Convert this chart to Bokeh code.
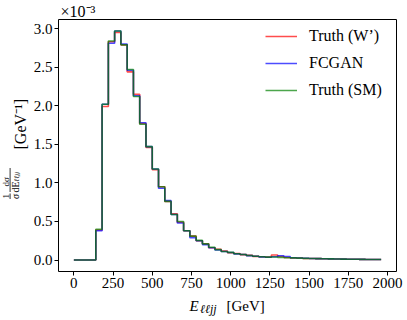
import math
from bokeh.plotting import figure
from bokeh.layouts import row, column
from bokeh.models import Range1d, FixedTicker, Legend, LegendItem, LinearAxis
from bokeh.core.properties import value
from bokeh.embed import file_html
from bokeh.resources import INLINE

# bin centres of the E_lljj histogram [GeV]
e_bins = [0, 40, 80, 120, 160, 200, 240, 280, 320, 360, 400, 440, 480, 520, 560, 600,
          640, 680, 720, 760, 800, 840, 880, 920, 960, 1000, 1040, 1080, 1120, 1160,
          1200, 1240, 1280, 1320, 1360, 1400, 1440, 1480, 1520, 1560, 1600, 1640, 1680,
          1720, 1760, 1800, 1840, 1880, 1920, 1960]

# normalised distributions, in units of 1e-3 GeV^-1
truth_wprime = [0, 0, 0, 0, 0.39, 1.99, 2.83, 2.95, 2.79, 2.44, 2.15, 1.77, 1.46, 1.17,
                0.95, 0.76, 0.60, 0.49, 0.38, 0.31, 0.25, 0.21, 0.16, 0.14, 0.115, 0.095,
                0.085, 0.070, 0.060, 0.048, 0.043, 0.040, 0.065, 0.045, 0.033, 0.027,
                0.026, 0.021, 0.020, 0.019, 0.016, 0.014, 0.014, 0.012, 0.010, 0.010,
                0.009, 0.008, 0.007, 0.007]
fcgan = [0, 0, 0, 0, 0.38, 2.02, 2.81, 2.97, 2.80, 2.46, 2.13, 1.78, 1.47, 1.18, 0.93,
         0.77, 0.59, 0.48, 0.38, 0.29, 0.25, 0.20, 0.16, 0.13, 0.11, 0.098, 0.080, 0.072,
         0.057, 0.050, 0.041, 0.037, 0.042, 0.055, 0.045, 0.030, 0.026, 0.023, 0.020,
         0.018, 0.017, 0.015, 0.013, 0.012, 0.011, 0.010, 0.009, 0.008, 0.008, 0.007]
truth_sm = [0, 0, 0, 0, 0.40, 2.02, 2.84, 2.97, 2.79, 2.47, 2.12, 1.76, 1.47, 1.18, 0.95,
            0.76, 0.59, 0.50, 0.38, 0.31, 0.255, 0.21, 0.165, 0.135, 0.11, 0.10, 0.082,
            0.072, 0.058, 0.050, 0.042, 0.038, 0.040, 0.034, 0.030, 0.028, 0.025, 0.022,
            0.021, 0.018, 0.016, 0.015, 0.013, 0.012, 0.011, 0.010, 0.009, 0.008, 0.008,
            0.007]

series_labels = ["Truth (W\u2019)", "FCGAN", "Truth (SM)"]
x_ticks = [0, 250, 500, 750, 1000, 1250, 1500, 1750, 2000]
y_ticks = [0.0, 0.5, 1.0, 1.5, 2.0, 2.5, 3.0]
y_tick_labels = ["0.0", "0.5", "1.0", "1.5", "2.0", "2.5", "3.0"]
offset_text = "\u00d710\u207b\u00b3"

FONT = "Liberation Serif"

# page geometry (pixels)
TOTAL_W, TOTAL_H = 405, 318
YLAB_W = 30                 # strip on the left holding the y-axis title
MAIN_H = 295                # main figure height; x-axis title strip below
FL, FR, FT, FB = 58, 396, 18, 271   # plot frame on the page

# matplotlib-like 5% margins
xspan = e_bins[-1] - e_bins[0]
ymax = max(max(truth_wprime), max(fcgan), max(truth_sm))
ymin = 0.0
yspan = ymax - ymin
X0, X1 = e_bins[0] - 0.05 * xspan, e_bins[-1] + 0.05 * xspan
Y0, Y1 = ymin - 0.05 * yspan, ymax + 0.05 * yspan

main_w = TOTAL_W - YLAB_W
p = figure(width=main_w, height=MAIN_H, output_backend="svg", toolbar_location=None,
           title=offset_text, x_range=Range1d(X0, X1), y_range=Range1d(Y0, Y1),
           min_border_left=FL - YLAB_W, min_border_right=TOTAL_W - FR,
           min_border_top=FT, min_border_bottom=MAIN_H - FB)
p.background_fill_color = "white"
p.border_fill_color = "white"
p.outline_line_color = None
p.grid.visible = False
p.title.text_font = FONT
p.title.text_font_size = "16px"
p.title.text_font_style = "normal"
p.title.text_color = "black"
p.title.align = "left"
p.title.offset = 2
p.title.standoff = 0

r1 = p.step(e_bins, truth_wprime, mode="center", line_color="red", line_alpha=0.7,
            line_width=1.6)
r2 = p.step(e_bins, fcgan, mode="center", line_color="blue", line_alpha=0.7,
            line_width=1.6)
r3 = p.step(e_bins, truth_sm, mode="center", line_color="#008000", line_alpha=0.7,
            line_width=1.6)

for ax in (p.xaxis[0], p.yaxis[0]):
    ax.axis_line_color = "black"
    ax.axis_line_width = 1
    ax.major_tick_in = 0
    ax.major_tick_out = 4
    ax.major_tick_line_color = "black"
    ax.minor_tick_line_color = None
    ax.major_label_text_font = FONT
    ax.major_label_text_font_size = "15px"
    ax.major_label_text_color = "black"
    ax.axis_label = None

p.xaxis.ticker = FixedTicker(ticks=x_ticks)
p.xaxis.major_label_standoff = 2
p.yaxis.ticker = FixedTicker(ticks=y_ticks)
p.yaxis.major_label_overrides = {t: s for t, s in zip(y_ticks, y_tick_labels)}
p.yaxis.major_label_standoff = 2

# top and right spines
for side in ("above", "right"):
    spine = LinearAxis(ticker=FixedTicker(ticks=[]), major_tick_out=0, major_tick_in=0,
                       minor_tick_out=0, minor_tick_in=0, major_label_standoff=0,
                       axis_line_color="black", axis_line_width=1)
    p.add_layout(spine, side)

legend = Legend(items=[LegendItem(label=series_labels[0], renderers=[r1]),
                       LegendItem(label=series_labels[1], renderers=[r2]),
                       LegendItem(label=series_labels[2], renderers=[r3])],
                location=(207, 171))
legend.border_line_color = None
legend.background_fill_alpha = 0
legend.label_text_font = FONT
legend.label_text_font_size = "16px"
legend.label_text_color = "black"
legend.glyph_width = 32
legend.glyph_height = 20
legend.label_height = 20
legend.label_standoff = 12
legend.spacing = 7
legend.padding = 5
legend.margin = 0
p.add_layout(legend)


def strip(width, height, xr):
    # a bare figure whose data coordinates are page pixels (y measured from bottom)
    f = figure(width=width, height=height, output_backend="svg", toolbar_location=None,
               title=None, x_range=Range1d(*xr), y_range=Range1d(0, height),
               x_axis_location=None, y_axis_location=None, min_border=0)
    f.grid.visible = False
    f.outline_line_color = None
    f.background_fill_color = "white"
    f.border_fill_color = "white"
    return f


def txt(f, s, x, y, size, angle=0.0, align="left", baseline="alphabetic", style="normal"):
    f.text(x=[x], y=[y], text=[s], text_font=value(FONT), text_font_size=value(f"{size}px"),
           text_font_style=value(style), text_align=value(align),
           text_baseline=value(baseline), angle=angle, text_color="black")


def py(page_y):
    return TOTAL_H - page_y


# y-axis title strip: 1/sigma dsigma/dE_{lljj} [GeV^-1], read bottom to top
ylab = strip(YLAB_W, TOTAL_H, (0, YLAB_W))
up = math.pi / 2
txt(ylab, "1", 5.5, py(198), 9, angle=up, baseline="middle")
txt(ylab, "\u03c3", 14.5, py(198.5), 10, angle=up, baseline="middle", style="italic")
txt(ylab, "d\u03c3", 5.5, py(186), 9, angle=up, baseline="middle")
txt(ylab, "dE", 14.5, py(192), 10, angle=up, baseline="middle")
txt(ylab, "\u2113\u2113jj", 16.5, py(181), 7, angle=up, baseline="middle", style="italic")
txt(ylab, "[GeV\u207b\u00b9]", 20, py(149), 16, angle=up, baseline="middle")
ylab.segment(x0=[9.6, 9.6], y0=[py(193), py(167.5)], x1=[9.6, 9.6],
             y1=[py(198.5), py(191.5)], line_color="black", line_width=0.8)

# x-axis title strip: its frame is aligned with the main frame (FL..FR)
xlab = strip(main_w, TOTAL_H - MAIN_H, (FL, FR))
txt(xlab, "E", 189, py(305), 15, style="italic")
txt(xlab, "\u2113\u2113jj", 199.5, py(308), 12, style="italic")
txt(xlab, "[GeV]", 226, py(305), 15)

layout = row(ylab, column(p, xlab))
open("out.html", "w").write(file_html(layout, INLINE))
